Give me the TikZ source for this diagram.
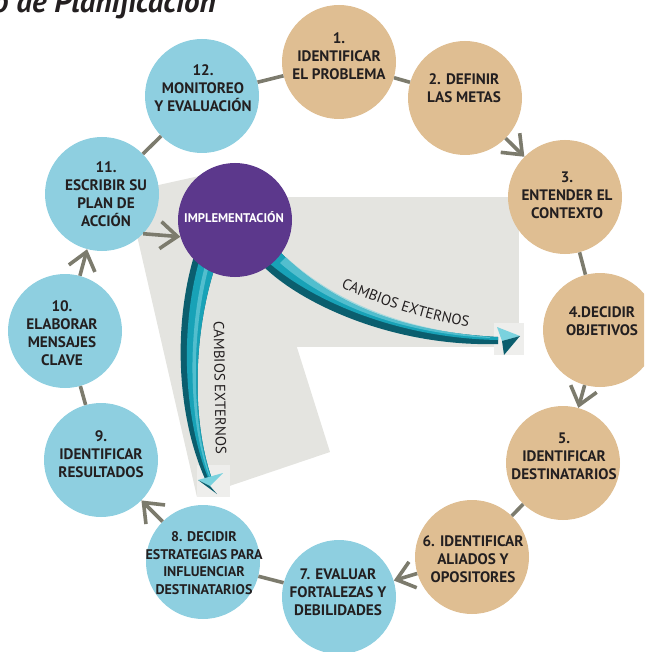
\documentclass[tikz,border=0pt]{standalone}
\usepackage{fontspec}
\setmainfont{PT Sans}
\usetikzlibrary{arrows.meta,decorations.text}

\definecolor{tan}{HTML}{DFBE92}
\definecolor{sky}{HTML}{8ECFE0}
\definecolor{plum}{HTML}{5C388C}
\definecolor{linkgray}{HTML}{7C7B6D}
\definecolor{panel}{HTML}{E4E4E0}
\definecolor{panellight}{HTML}{EEEEEC}
\definecolor{ink}{HTML}{231F20}
\definecolor{tealmid}{HTML}{18A2B7}
\definecolor{tealdark}{HTML}{0B5E6E}
\definecolor{teallight}{HTML}{7AD2DE}

\tikzset{
  stage/.style={circle, inner sep=0pt, minimum size=114pt},
  tanstage/.style={stage, fill=tan},
  skystage/.style={stage, fill=sky},
  stagetext/.style={font=\bfseries\fontsize{15.2}{17.8}\selectfont, text=ink,
    align=center, inner sep=0pt},
  smalltext/.style={stagetext, font=\bfseries\fontsize{14}{17.7}\selectfont},
  link/.style={draw=linkgray, line width=3.6pt},
  flow/.style={link, -{Straight Barb[length=17pt,width=27pt]}},
  sidetext/.style={font=\fontsize{14.8}{14.8}\selectfont, text=ink, inner sep=0pt}
}

\begin{document}
\begin{tikzpicture}[x=1pt,y=-1pt]
\useasboundingbox (0,0) rectangle (644,652);
\clip (0,0) rectangle (644,652);

% title line
\node[anchor=base west, inner sep=0pt, text=ink,
  font=\bfseries\itshape\fontsize{31}{31}\selectfont] (title) at (-7,12.5)
  {o de Planificación};

% grey panels behind the implementation arrows
\fill[panel] (127,192) -- (240,167) -- (330,452) -- (197,497) -- cycle;
\fill[panel] (230,197) rectangle (519,347);
\fill[panellight] (494,323) rectangle (524,355);
\fill[panellight] (197,465) rectangle (230,497);

% right-hand arrow of external change
\fill[tealdark] (279,251) .. controls (318,290) and (380,331) .. (498,337)
  -- (498,344) .. controls (392,347) and (300,303) .. (263,266) -- cycle;
\fill[tealmid] (279,251) .. controls (318,290) and (380,331) .. (498,337)
  -- (498,340) .. controls (390,338) and (306,296) .. (268,262) -- cycle;
\fill[teallight, opacity=.6] (286,257) .. controls (322,290) and (384,328) .. (490,337)
  -- (490,338) .. controls (384,332) and (318,296) .. (280,263) -- cycle;
\fill[teallight] (497,327) -- (520,336) -- (502,341) -- cycle;
\fill[tealdark] (502,341) -- (520,336) -- (504,355) -- cycle;

% downward arrow of external change
\fill[tealdark] (194,256) .. controls (172,330) and (178,420) .. (206,481)
  -- (212,479) .. controls (191,420) and (193,330) .. (217,261) -- cycle;
\fill[tealmid] (200,258) .. controls (179,330) and (184,420) .. (209,480)
  -- (212,479) .. controls (191,420) and (193,330) .. (217,261) -- cycle;
\fill[teallight, opacity=.6] (206,262) .. controls (187,330) and (188,420) .. (209,476)
  -- (210,476) .. controls (191,420) and (191,330) .. (210,262) -- cycle;
\fill[teallight] (198,480) -- (223,473) -- (210,486) -- cycle;
\fill[tealdark] (198,480) -- (210,486) -- (217,494) -- cycle;

% stages of the cycle
\node[tanstage]  (c1)  at (339,62)  {};
\node[tanstage]  (c2)  at (465,98)  {};
\node[tanstage]  (c3)  at (565,197) {};
\node[tanstage]  (c4)  at (600,330) {};
\node[tanstage]  (c5)  at (563,463) {};
\node[tanstage]  (c6)  at (472,557) {};
\node[skystage]  (c7)  at (339,597) {};
\node[skystage]  (c8)  at (203,562) {};
\node[skystage]  (c9)  at (101,460) {};
\node[skystage]  (c10) at (65,331)  {};
\node[skystage]  (c11) at (102,194) {};
\node[skystage]  (c12) at (202,96)  {};
\node[stage, fill=plum] (impl) at (235,220) {};

% connectors
\draw[link] (c1) -- (c2);
\draw[flow] (c2) -- (c3);
\draw[link] (c3) -- (c4);
\draw[flow] (c4) -- (c5);
\draw[link] (c5) -- (c6);
\draw[flow] (c6) -- (c7);
\draw[link] (c7) -- (c8);
\draw[flow] (c8) -- (c9);
\draw[link] (c9) -- (c10);
\draw[flow] (c10) -- (c11);
\draw[link] (c11) -- (c12);
\draw[link] (c12) -- (c1);
\draw[flow] (c11.-44) -- (impl.197);

% stage captions
\node[stagetext] (t1)  at (339,56)  {1.\\IDENTIFICAR\\EL PROBLEMA};
\node[stagetext] (t2)  at (464,88)  {2. DEFINIR\\LAS METAS};
\node[stagetext] (t3)  at (567,195) {3.\\ENTENDER EL\\CONTEXTO};
\node[stagetext] (t4)  at (602,321) {4.DECIDIR\\OBJETIVOS};
\node[stagetext] (t5)  at (564,456) {5.\\IDENTIFICAR\\DESTINATARIOS};
\node[stagetext] (t6)  at (473,559) {6. IDENTIFICAR\\ALIADOS Y\\OPOSITORES};
\node[stagetext] (t7)  at (338,592) {7. EVALUAR\\FORTALEZAS Y\\DEBILIDADES};
\node[smalltext] (t8)  at (204,563) {8. DECIDIR\\ESTRATEGIAS PARA\\INFLUENCIAR\\DESTINATARIOS};
\node[stagetext] (t9)  at (101,454) {9.\\IDENTIFICAR\\RESULTADOS};
\node[stagetext] (t10) at (62,333)  {10.\\ELABORAR\\MENSAJES\\CLAVE};
\node[stagetext] (t11) at (106,194) {11.\\ESCRIBIR SU\\PLAN DE\\ACCIÓN};
\node[stagetext] (t12) at (203,88)  {12.\\MONITOREO\\Y EVALUACIÓN};
\node[stagetext, text=white, font=\bfseries\fontsize{12.6}{12.6}\selectfont]
  (timpl) at (234,217) {IMPLEMENTACIÓN};

% arrow captions
\path[decorate, decoration={text along path, text align=center,
  text={|\fontsize{14.8}{14.8}\selectfont\color{ink}|CAMBIOS EXTERNOS}}]
  (334,284) .. controls (370,302) and (430,322) .. (476,328);
\node[sidetext, rotate=-89] (ext2) at (220,388) {CAMBIOS EXTERNOS};
\end{tikzpicture}
\end{document}
